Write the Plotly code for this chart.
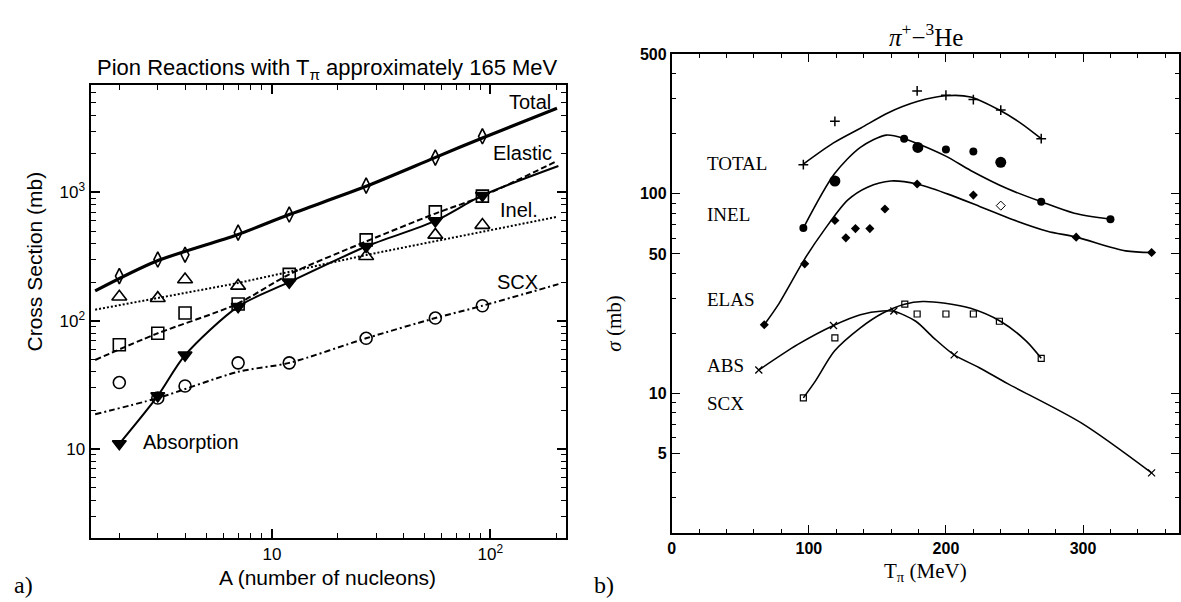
import plotly.graph_objects as go

W, H = 1181, 602

# ---------------- Left panel data (A, cross section in mb) ----------------
A_pts = [2, 3, 4, 7, 12, 27, 56, 92]
total_pts = [223, 300, 327, 487, 673, 1132, 1870, 2740]
elastic_pts = [65, 80, 115, 135, 230, 427, 706, 937]
inel_A = [2, 3, 4, 7, 27, 56, 92]
inel_pts = [154, 150, 210, 187, 318, 467, 557]
scx_pts = [33, 25, 31, 47, 47, 73, 105, 131]
abs_pts = [11, 26, 54, 129, 200, 379, 600, 948]

total_fit_A = [1.55, 2.95, 6.9, 12, 26.8, 55.8, 92, 202]
total_fit = [171, 291, 467, 673, 1112, 1870, 2660, 4530]
elastic_fit_A = [1.55, 2.95, 6.9, 12, 27, 56, 92, 202]
elastic_fit = [49.5, 79, 135, 230, 415, 685, 935, 1760]
inel_fit_A = [1.55, 6.9, 26.9, 202]
inel_fit = [122, 196, 325, 646]
scx_fit_A = [1.55, 3, 7, 12, 27, 56, 92, 205]
scx_fit = [18.7, 25, 40, 47, 73, 105, 131, 193]
abs_fit_A = [2, 3, 4, 7, 12, 27, 56, 92, 205]
abs_fit = [11, 26, 54, 129, 200, 379, 600, 948, 1610]

# ---------------- Right panel data (T_pi in MeV, sigma in mb) ----------------
tot_T = [96, 119, 179, 200, 220, 240, 269.5]
tot_s = [140, 231, 328, 312, 297, 263, 189]
tot_curve_T = [96, 118, 138, 158, 179, 199.5, 218, 239, 255, 269.5]
tot_curve_s = [141, 180, 214, 255, 290, 310, 306, 263, 225, 189]

inel_T = [96, 119, 169.5, 179.5, 200, 220, 240, 269.5, 320]
inel_s = [67.4, 116, 189, 171, 167, 163, 144, 91.4, 74.7]
inel_size = [8, 11, 8, 11, 8, 8, 11, 8, 8]
inel_curve_T = [96, 118.7, 137.6, 156.4, 169.8, 199.5, 218, 245, 269.4, 293.6, 320]
inel_curve_s = [67.4, 126, 171, 197, 189, 155, 131, 106, 91.4, 80, 74.7]

elas_T = [67.5, 97, 119, 127, 134, 144.5, 155.5, 179, 220, 295, 350]
elas_s = [22.1, 44.6, 73.6, 60.2, 67, 67, 84, 112, 98.6, 60.7, 50.8]
elas_open_T = [240]
elas_open_s = [87.3]
elas_curve_T = [67.5, 77.5, 96.8, 111.3, 128.3, 142.8, 159.8, 179, 201, 225, 249, 274, 295, 331, 350]
elas_curve_s = [22.1, 27.7, 47, 66, 93, 108, 116, 112, 100, 86.3, 74.2, 65, 60.7, 51.8, 50.8]

abs_T = [63.5, 118, 162, 206, 350]
abs_s = [13.1, 21.9, 25.9, 15.6, 4.0]
abs_curve_T = [63.5, 92, 118, 137.6, 153.7, 162, 178, 191, 206, 224, 245, 299, 350]
abs_curve_s = [13.1, 17.6, 21.9, 24.8, 25.9, 25.8, 23, 19, 15.6, 13.5, 11.2, 7.1, 4.0]

scx_T = [96, 119, 170, 179, 200, 220, 239, 269.5]
scx_s = [9.5, 19, 28, 25, 25, 25, 23, 15]
scx_curve_T = [96, 105, 118.7, 137.6, 153.7, 169.8, 183, 199.5, 218, 239.7, 258.6, 269.5]
scx_curve_s = [9.5, 11.6, 16.3, 21.3, 25.2, 28, 28.9, 28.3, 26.7, 23, 18.3, 15]

# ---------------- Figure ----------------
fig = go.Figure()
K = "black"

def L(x, y, dash="solid", width=1.6, xa="x", ya="y", shape="spline"):
    fig.add_trace(go.Scatter(x=x, y=y, mode="lines", xaxis=xa, yaxis=ya,
                             line=dict(color=K, width=width, dash=dash, shape=shape, smoothing=0.8),
                             hoverinfo="skip", showlegend=False))

def M(x, y, symbol, size, xa="x", ya="y", lw=1.6):
    fig.add_trace(go.Scatter(x=x, y=y, mode="markers", xaxis=xa, yaxis=ya,
                             marker=dict(symbol=symbol, size=size, color=K, opacity=1,
                                         line=dict(color=K, width=lw)),
                             showlegend=False))

# left panel
L(total_fit_A, total_fit, width=3.2)
L(elastic_fit_A, elastic_fit, dash="6px,3px", width=2)
L(inel_fit_A, inel_fit, dash="2px,2px", width=2, shape="linear")
L(scx_fit_A, scx_fit, dash="6px,3px,2px,3px", width=2)
L(abs_fit_A, abs_fit, width=2)
M(A_pts, total_pts, "diamond-tall-open", 11)
M(A_pts, elastic_pts, "square-open", 12)
M(inel_A, inel_pts, "triangle-up-open", 13)
M(A_pts, scx_pts, "circle-open", 12)
M(A_pts, abs_pts, "triangle-down", 12)

# right panel
L(tot_curve_T, tot_curve_s, xa="x2", ya="y2", width=1.6)
L(inel_curve_T, inel_curve_s, xa="x2", ya="y2", width=1.6)
L(elas_curve_T, elas_curve_s, xa="x2", ya="y2", width=1.6)
L(abs_curve_T, abs_curve_s, xa="x2", ya="y2", width=1.6)
L(scx_curve_T, scx_curve_s, xa="x2", ya="y2", width=1.6)
M(tot_T, tot_s, "cross-thin", 7, xa="x2", ya="y2", lw=1.5)
M(inel_T, inel_s, "circle", inel_size, xa="x2", ya="y2", lw=0)
M(elas_T, elas_s, "diamond", 7, xa="x2", ya="y2", lw=0)
M(elas_open_T, elas_open_s, "diamond-open", 7, xa="x2", ya="y2", lw=1)
M(abs_T, abs_s, "x-thin", 7, xa="x2", ya="y2", lw=1.3)
M(scx_T, scx_s, "square-open", 6, xa="x2", ya="y2", lw=1.2)

def px(x):
    return x / W

def py(y):
    return 1 - y / H

sans = "Liberation Sans, Arial, sans-serif"
serif = "Liberation Serif, Times New Roman, serif"

minor_x1 = [2, 3, 4, 5, 6, 7, 8, 9, 20, 30, 40, 50, 60, 70, 80, 90, 200]
minor_y1 = [2, 3, 4, 5, 6, 7, 8, 9, 20, 30, 40, 50, 60, 70, 80, 90,
            200, 300, 400, 500, 600, 700, 800, 900, 2000, 3000, 4000, 5000, 6000, 7000]
minor_y2 = [2, 3, 4, 6, 7, 8, 9, 20, 30, 40, 60, 70, 80, 90, 200, 300, 400]

fig.update_layout(
    width=W, height=H, margin=dict(l=0, r=0, t=0, b=0),
    paper_bgcolor="white", plot_bgcolor="white", showlegend=False,
    xaxis=dict(domain=[px(87), px(564)], type="log", range=[0.17, 2.347],
               anchor="y", showgrid=False, zeroline=False,
               showline=True, linecolor=K, linewidth=2.4, mirror="allticks",
               ticks="inside", ticklen=9, tickwidth=1.5, tickcolor=K,
               tickmode="array", tickvals=[10, 100], ticktext=["10", "10<sup>2</sup>"],
               tickfont=dict(family=sans, size=17, color=K),
               minor=dict(ticks="inside", ticklen=5, tickwidth=1.2, tickcolor=K,
                          tickmode="array", tickvals=minor_x1, showgrid=False)),
    yaxis=dict(domain=[py(537), py(78)], type="log", range=[0.308, 3.838],
               anchor="x", showgrid=False, zeroline=False,
               showline=True, linecolor=K, linewidth=2.4, mirror="allticks",
               ticks="inside", ticklen=9, tickwidth=1.5, tickcolor=K,
               tickmode="array", tickvals=[10, 100, 1000],
               ticktext=["10", "10<sup>2</sup>", "10<sup>3</sup>"],
               tickfont=dict(family=sans, size=17, color=K),
               minor=dict(ticks="inside", ticklen=5, tickwidth=1.2, tickcolor=K,
                          tickmode="array", tickvals=minor_y1, showgrid=False)),
    xaxis2=dict(domain=[px(670), px(1179)], range=[0, 370], anchor="y2",
                showgrid=False, zeroline=False,
                showline=True, linecolor=K, linewidth=1.8, mirror="allticks",
                ticks="inside", ticklen=8, tickwidth=1.3, tickcolor=K,
                tickmode="array", tickvals=[0, 100, 200, 300],
                tickfont=dict(family=sans, size=16, color=K, weight="bold"),
                minor=dict(ticks="inside", ticklen=4, tickwidth=1, tickcolor=K,
                           dtick=20, tick0=0, showgrid=False)),
    yaxis2=dict(domain=[py(532), py(47)], type="log", range=[0.301, 2.699],
                anchor="x2", showgrid=False, zeroline=False,
                showline=True, linecolor=K, linewidth=1.8, mirror="allticks",
                ticks="inside", ticklen=8, tickwidth=1.3, tickcolor=K,
                tickmode="array", tickvals=[5, 10, 50, 100, 500],
                ticktext=["5", "10", "50", "100", "500"],
                tickfont=dict(family=sans, size=16, color=K, weight="bold"),
                minor=dict(ticks="inside", ticklen=4, tickwidth=1, tickcolor=K,
                           tickmode="array", tickvals=minor_y2, showgrid=False)),
)

ann = []

def A(x, y, text, size, family=sans, xanchor="center", textangle=0):
    ann.append(dict(x=px(x), y=py(y), xref="paper", yref="paper", text=text,
                    showarrow=False, xanchor=xanchor, yanchor="middle",
                    textangle=textangle,
                    font=dict(family=family, size=size, color=K)))

# left panel texts
A(325, 62, "Pion Reactions with T<sub>π</sub> approximately 165 MeV", 22)
A(325, 577, "A (number of nucleons)", 21)
A(31, 257, "Cross Section (mb)", 21, textangle=-90)
A(528, 95, "Total", 20)
A(520, 147, "Elastic", 20)
A(517, 205, "Inel.", 20)
A(515, 278, "SCX", 20)
A(137, 440, "Absorption", 20, xanchor="left")
A(20, 585, "a)", 24, family=serif)

# right panel texts
A(925, 27, "<i>π</i><sup>+</sup>−<sup>3</sup>He", 25, family=serif)
A(925, 572, "T<sub>π</sub> (MeV)", 21, family=serif)
A(612, 320, "<i>σ</i> (mb)", 21, family=serif, textangle=-90)
A(703, 158, "TOTAL", 19, family=serif, xanchor="left")
A(703, 209, "INEL", 19, family=serif, xanchor="left")
A(703, 295, "ELAS", 19, family=serif, xanchor="left")
A(703, 362, "ABS", 19, family=serif, xanchor="left")
A(703, 401, "SCX", 19, family=serif, xanchor="left")
A(602, 585, "b)", 24, family=serif)

fig.update_layout(annotations=ann)
fig.write_html("out.html")
